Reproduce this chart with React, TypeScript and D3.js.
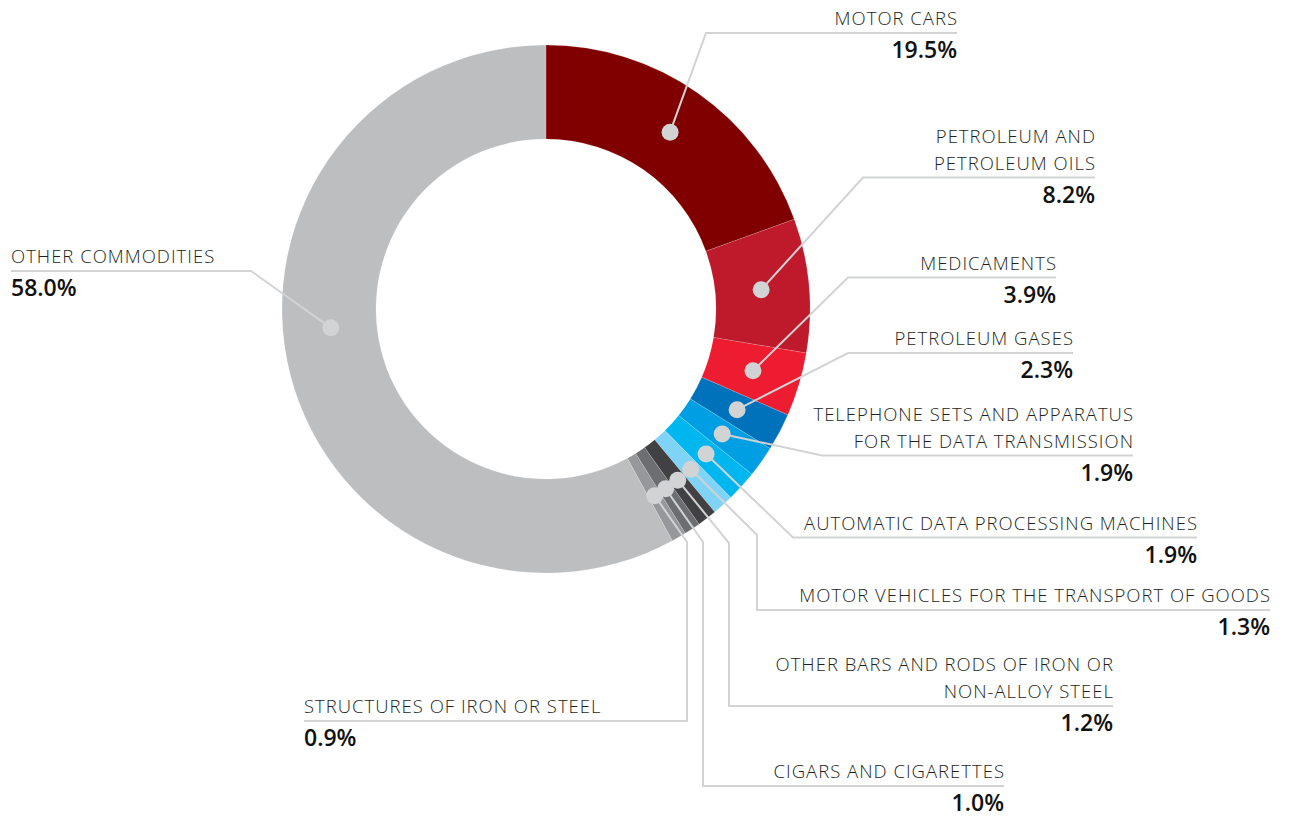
import React from "react";
import * as d3 from "d3";

// ---- data ----
const categories: string[] = [
  "MOTOR CARS",
  "PETROLEUM AND PETROLEUM OILS",
  "MEDICAMENTS",
  "PETROLEUM GASES",
  "TELEPHONE SETS AND APPARATUS FOR THE DATA TRANSMISSION",
  "AUTOMATIC DATA PROCESSING MACHINES",
  "MOTOR VEHICLES FOR THE TRANSPORT OF GOODS",
  "OTHER BARS AND RODS OF IRON OR NON-ALLOY STEEL",
  "CIGARS AND CIGARETTES",
  "STRUCTURES OF IRON OR STEEL",
  "OTHER COMMODITIES",
];
const labelLines: string[][] = [
  ["MOTOR CARS"],
  ["PETROLEUM AND", "PETROLEUM OILS"],
  ["MEDICAMENTS"],
  ["PETROLEUM GASES"],
  ["TELEPHONE SETS AND APPARATUS", "FOR THE DATA TRANSMISSION"],
  ["AUTOMATIC DATA PROCESSING MACHINES"],
  ["MOTOR VEHICLES FOR THE TRANSPORT OF GOODS"],
  ["OTHER BARS AND RODS OF IRON OR", "NON-ALLOY STEEL"],
  ["CIGARS AND CIGARETTES"],
  ["STRUCTURES OF IRON OR STEEL"],
  ["OTHER COMMODITIES"],
];
const shares: number[] = [19.5, 8.2, 3.9, 2.3, 1.9, 1.9, 1.3, 1.2, 1.0, 0.9, 58.0];

// ---- styles / layout ----
const sliceColors: string[] = [
  "#800000", "#be1a2b", "#ed1c30", "#0072bc", "#009fe3", "#00b6ee",
  "#7fd3f6", "#414042", "#6d6e71", "#97989b", "#bcbec0",
];
const W = 1289;
const H = 818;
const CX = 546;
const CY = 309;
const R_OUT = 264;
const R_IN = 170;
const R_DOT = 216;

type Leader = { pts: [number, number][]; end: number; y: number; anchor: "start" | "end" };
const leaders: Leader[] = [
  { pts: [[706, 33]], end: 957, y: 33, anchor: "end" },
  { pts: [[863, 177.5]], end: 1095, y: 177.5, anchor: "end" },
  { pts: [[848, 277.5]], end: 1056, y: 277.5, anchor: "end" },
  { pts: [[848, 353]], end: 1073, y: 353, anchor: "end" },
  { pts: [[822, 455.5]], end: 1133, y: 455.5, anchor: "end" },
  { pts: [[793, 537.5]], end: 1197, y: 537.5, anchor: "end" },
  { pts: [[757, 535], [757, 610]], end: 1270, y: 610, anchor: "end" },
  { pts: [[729, 543], [729, 706]], end: 1113, y: 706, anchor: "end" },
  { pts: [[703, 542], [703, 786]], end: 1004, y: 786, anchor: "end" },
  { pts: [[687, 542], [687, 721]], end: 304, y: 721, anchor: "start" },
  { pts: [[251, 271]], end: 11, y: 271, anchor: "start" },
];
const dotAngleOverride: (number | null)[] = [null, null, null, null, null, null, null, null, null, null, 265];

const LABEL_FONT = "'Open Sans', 'Noto Sans', sans-serif";
const LETTER_SP = 1.0;

export default function App() {
  const pie = d3.pie<number>().sort(null).value((d) => d);
  const arcs = pie(shares);
  const arcGen = d3.arc<d3.PieArcDatum<number>>().innerRadius(R_IN).outerRadius(R_OUT);
  const fmt = d3.format(".1f");

  const dots = arcs.map((a, i) => {
    const ang = dotAngleOverride[i] != null ? (dotAngleOverride[i]! * Math.PI) / 180 : (a.startAngle + a.endAngle) / 2;
    const [x, y] = d3.pointRadial(ang, R_DOT);
    return [CX + x, CY + y] as [number, number];
  });

  const line = d3.line();

  return (
    <svg
      width={W}
      height={H}
      style={{ position: "absolute", left: 0, top: 0, background: "#fff" }}
    >
      <g transform={`translate(${CX},${CY})`}>
        {arcs.map((a, i) => (
          <path key={i} d={arcGen(a) || ""} fill={sliceColors[i]} stroke="#ffffff" strokeOpacity={0.25} strokeWidth={0.6} />
        ))}
      </g>
      {leaders.map((L, i) => {
        const pts: [number, number][] = [dots[i], ...L.pts, [L.end, L.y]];
        return <path key={"l" + i} d={line(pts) || ""} fill="none" stroke="#d1d3d4" strokeWidth={2} />;
      })}
      {dots.map((p, i) => (
        <circle key={"d" + i} cx={p[0]} cy={p[1]} r={8.5} fill="#d1d3d4" />
      ))}
      {leaders.map((L, i) => {
        const x = L.end;
        const lines = labelLines[i];
        const n = lines.length;
        const tx = L.anchor === "end" ? x + LETTER_SP : x;
        return (
          <g key={"t" + i} textAnchor={L.anchor}>
            {lines.map((t, j) => (
              <text
                key={j}
                x={tx}
                y={L.y - 8 - (n - 1 - j) * 26.6}
                fontFamily={LABEL_FONT}
                fontWeight={300}
                fontSize={18.5}
                letterSpacing={LETTER_SP}
                fill="#231f20"
              >
                {t}
              </text>
            ))}
            <text
              x={x}
              y={L.y + 25}
              fontFamily={LABEL_FONT}
              fontWeight={600}
              fontSize={23}
              fill="#111111"
            >
              {fmt(shares[i]) + "%"}
            </text>
          </g>
        );
      })}
    </svg>
  );
}
